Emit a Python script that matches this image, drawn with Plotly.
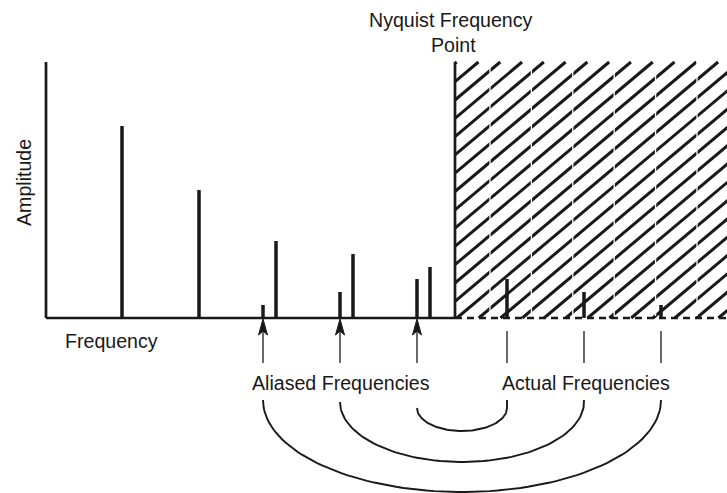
import numpy as np
import plotly.graph_objects as go

# ---------------- data ----------------
signal_freq = [122, 199, 276, 353, 430]
signal_amp = [192, 128, 77, 64, 51]
aliased_freq = [263, 340, 417]
aliased_amp = [13, 26, 39]
actual_freq = [661, 584, 507]
actual_amp = [13, 26, 39]
nyquist_freq = 455
freq_max = 727
amp_top = 256

labels_axis = ["Amplitude", "Frequency"]
label_nyquist = ["Nyquist Frequency", "Point"]
label_groups = ["Aliased Frequencies", "Actual Frequencies"]

# ---------------- style ----------------
INK = "#1a1819"
FONT = "Liberation Sans, Arial, sans-serif"
FS = 19.6
Y_MIN, Y_MAX = -175, 318
X_AXIS0 = 46

fig = go.Figure()


def seg_trace(xs, ys, width, color=INK, dash=None):
    line = dict(color=color, width=width)
    if dash:
        line["dash"] = dash
    fig.add_trace(go.Scatter(x=xs, y=ys, mode="lines", line=line,
                             hoverinfo="skip", showlegend=False))


# hatch lines in the region above the Nyquist point
slope = 0.84
spacing = 18.3
phase = 236.3
hx, hy = [], []
for m in range(-30, 5):
    a0 = phase + spacing * m
    xs = max(nyquist_freq, nyquist_freq + (0 - a0) / slope)
    xe = min(freq_max + 2, nyquist_freq + (amp_top - a0) / slope)
    if xs < xe:
        hx += [xs, xe, None]
        hy += [a0 + slope * (xs - nyquist_freq), a0 + slope * (xe - nyquist_freq), None]
seg_trace(hx, hy, 3.0)

# faint white vertical gaps across the hatching
gx, gy = [], []
for k in range(6):
    g = 490 + 41.4 * k
    gx += [g, g, None]
    gy += [2, amp_top, None]
seg_trace(gx, gy, 1.3, color="white")

# axes
seg_trace([X_AXIS0, X_AXIS0, None, X_AXIS0, nyquist_freq, None, nyquist_freq, nyquist_freq],
          [amp_top, 0, None, 0, 0, None, 0, amp_top], 2.7)
seg_trace([nyquist_freq, freq_max], [0, 0], 2.7, dash="7px,5px")

# spectral lines
def bars(freqs, amps, width=3.5):
    xs, ys = [], []
    for f, a in zip(freqs, amps):
        xs += [f, f, None]
        ys += [0, a, None]
    seg_trace(xs, ys, width)

bars(signal_freq, signal_amp)
bars(aliased_freq, aliased_amp)
bars(actual_freq, actual_amp)

# arrows at aliased frequencies, ticks at actual frequencies
sx, sy = [], []
for f in aliased_freq:
    sx += [f, f, None]
    sy += [-14, -45, None]
for f in actual_freq:
    sx += [f, f, None]
    sy += [-13, -45, None]
seg_trace(sx, sy, 1.3)

for f in aliased_freq:
    fig.add_trace(go.Scatter(x=[f, f - 4.5, f, f + 4.5, f], y=[-1, -17, -13, -17, -1],
                             mode="lines", fill="toself", fillcolor=INK,
                             line=dict(color=INK, width=1), hoverinfo="skip",
                             showlegend=False))

# arcs joining each aliased frequency to its actual frequency
arc_top = [-82, -84, -90]      # pixel 400, 402, 408
arc_depth = [92, 60, 23]
t = np.linspace(0, np.pi, 80)
ax_, ay_ = [], []
for fa, fr, top, d in zip(aliased_freq, actual_freq, arc_top, arc_depth):
    c = (fa + fr) / 2
    r = (fr - fa) / 2
    xs = list(c - r * np.cos(t))
    ys = list(top - d * np.sin(t))
    if top < -82:
        xs.append(fr)
        ys.append(-82)
    ax_ += xs + [None]
    ay_ += ys + [None]
seg_trace(ax_, ay_, 1.9)

# ---------------- text ----------------
def label(text, x, y, angle=0):
    fig.add_annotation(x=x, y=y, text=text, showarrow=False, textangle=angle,
                       xanchor="center", yanchor="middle",
                       font=dict(family=FONT, size=FS, color=INK))

label(label_nyquist[0], 451, 318 - 20)
label(label_nyquist[1], 453, 318 - 45)
label(labels_axis[0], 24, 318 - 183, angle=-90)
label(labels_axis[1], 111.5, 318 - 341)
label(label_groups[0], 340.5, 318 - 383)
label(label_groups[1], 585.5, 318 - 383)

fig.update_layout(
    width=727, height=493,
    margin=dict(l=0, r=0, t=0, b=0),
    paper_bgcolor="white", plot_bgcolor="white",
    xaxis=dict(range=[0, freq_max], visible=False, fixedrange=True),
    yaxis=dict(range=[Y_MIN, Y_MAX], visible=False, fixedrange=True),
)

fig.write_html("out.html", config={"displayModeBar": False},
               post_script="document.body.style.margin='0px';document.body.style.overflow='hidden';")
